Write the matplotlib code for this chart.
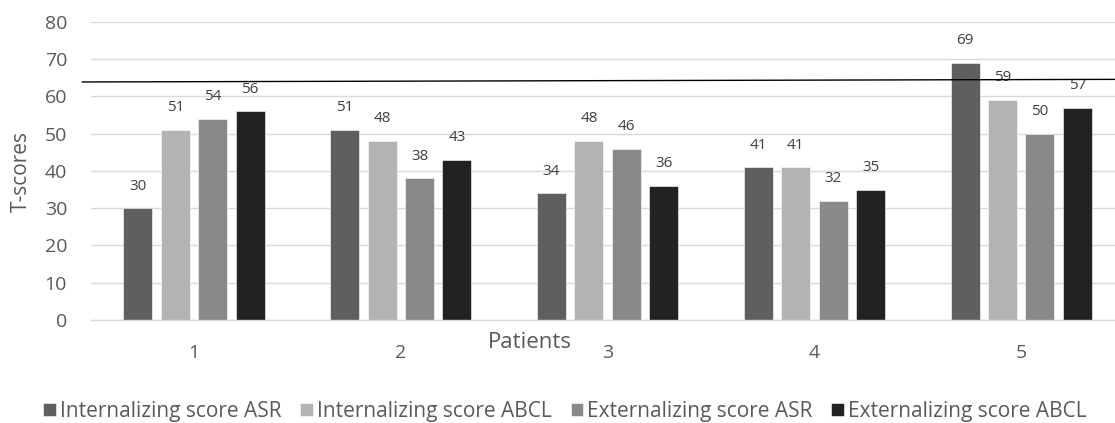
import numpy as np
import matplotlib
matplotlib.use('Agg')
import matplotlib.pyplot as plt

plt.rcParams['font.family'] = ['Open Sans', 'DejaVu Sans']

# Daten
patients = ['1', '2', '3', '4', '5']
series = ['Internalizing score ASR', 'Internalizing score ABCL',
          'Externalizing score ASR', 'Externalizing score ABCL']
int_asr = [30, 51, 34, 41, 69]
int_abcl = [51, 48, 48, 41, 59]
ext_asr = [54, 38, 46, 32, 50]
ext_abcl = [56, 43, 36, 35, 57]
colors = ['#5f5f5f', '#b3b3b3', '#898989', '#222222']

# leicht schraege Grenzlinie (von Hand eingezeichnet)
cutoff_x = [-0.54, 4.46]
cutoff_y = [63.9, 64.6]

fig = plt.figure(figsize=(11.15, 4.23), dpi=100)
ax = fig.add_axes([0.0813, 0.2435, 0.9273, 0.7045])

x = np.arange(len(patients))
step = 0.181
width = 0.140
for i, (vals, name) in enumerate(zip([int_asr, int_abcl, ext_asr, ext_abcl], series)):
    pos = x + (i - 1.5) * step
    ax.bar(pos, vals, width, color=colors[i], label=name, zorder=2,
           edgecolor='white', linewidth=0.4)
    for xp, v in zip(pos, vals):
        ax.annotate(str(v), (xp, v), xytext=(0, 16), textcoords='offset points',
                    ha='center', va='center', fontsize=11, color='#404040')

ax.plot(cutoff_x, cutoff_y, color='black', linewidth=1.0, clip_on=False, zorder=3)

ax.set_xlim(-0.5, 4.5)
ax.set_ylim(0, 80)
ax.set_yticks(range(0, 81, 10))
ax.set_xticks(x)
ax.set_xticklabels(patients)
ax.tick_params(axis='both', length=0, labelsize=14, colors='#595959')
ax.tick_params(axis='x', pad=17)
ax.tick_params(axis='y', pad=17)
ax.grid(axis='y', color='#d9d9d9', linewidth=1.0, zorder=0)
ax.set_axisbelow(True)
for s in ['top', 'right', 'left']:
    ax.spines[s].set_visible(False)
ax.spines['bottom'].set_color('#d9d9d9')
ax.spines['bottom'].set_linewidth(1.0)

# Achsentitel frei positioniert wie im Original
fig.text(21 / 1115, 1 - 171 / 423, 'T-scores', fontsize=15, color='#595959',
         rotation=90, ha='center', va='center')
fig.text(530 / 1115, 1 - 342 / 423, 'Patients', fontsize=16, color='#595959',
         ha='center', va='center')

fig.legend(loc='center', bbox_to_anchor=(565 / 1115, 1 - 411 / 423), ncol=4,
           frameon=False, fontsize=15, handlelength=0.6, handleheight=0.6,
           handletextpad=0.2, columnspacing=0.9, labelcolor='#595959')

fig.savefig('out.png', dpi=100)
